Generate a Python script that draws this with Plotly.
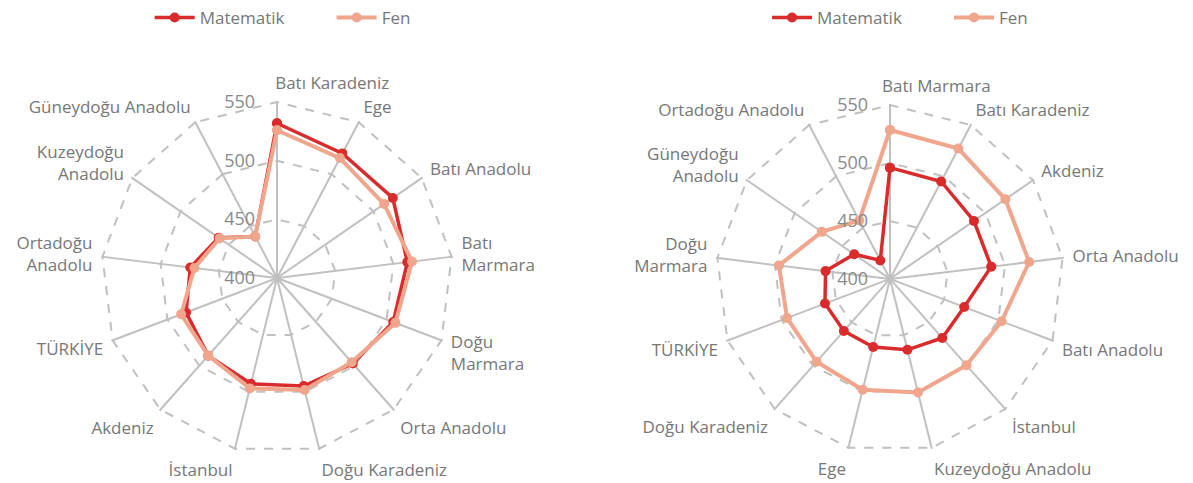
import plotly.graph_objects as go

# ---------------- data ----------------
left_categories = ["Batı Karadeniz", "Ege", "Batı Anadolu", "Batı Marmara", "Doğu Marmara",
                   "Orta Anadolu", "Doğu Karadeniz", "İstanbul", "Akdeniz", "TÜRKİYE",
                   "Ortadoğu Anadolu", "Kuzeydoğu Anadolu", "Güneydoğu Anadolu"]
left_ticktext = ["Batı Karadeniz", "Ege", "Batı Anadolu", "Batı<br>Marmara", "Doğu<br>Marmara",
                 "Orta Anadolu", "Doğu Karadeniz", "İstanbul", "Akdeniz", "TÜRKİYE",
                 "Ortadoğu<br>Anadolu", "Kuzeydoğu<br>Anadolu", "Güneydoğu Anadolu"]
left_matematik = [532, 520, 520, 512, 506, 497.5, 495, 493, 488.5, 483, 474.5, 460.5, 440]
left_fen = [526, 515.5, 511, 516, 508, 496, 498.5, 497, 488.5, 487.5, 471, 459.5, 440]

right_categories = ["Batı Marmara", "Batı Karadeniz", "Akdeniz", "Orta Anadolu", "Batı Anadolu",
                    "İstanbul", "Kuzeydoğu Anadolu", "Ege", "Doğu Karadeniz", "TÜRKİYE",
                    "Doğu Marmara", "Güneydoğu Anadolu", "Ortadoğu Anadolu"]
right_ticktext = ["Batı Marmara", "Batı Karadeniz", "Akdeniz", "Orta Anadolu", "Batı Anadolu",
                  "İstanbul", "Kuzeydoğu Anadolu", "Ege", "Doğu Karadeniz", "TÜRKİYE",
                  "Doğu<br>Marmara", "Güneydoğu<br>Anadolu", "Ortadoğu Anadolu"]
right_matematik = [496, 495, 488, 488, 468.5, 468, 463, 460.5, 460, 460, 456, 437.5, 418]
right_fen = [528.5, 527, 521, 521, 503, 499.5, 501, 498.5, 495.5, 495, 496.5, 471.5, 457]

radial_ticks = [400, 450, 500, 550]

# ---------------- styles ----------------
MAT_COLOR = "#d92b2b"
FEN_COLOR = "#f0a68c"
GRID = "#c0c0c0"
FONT = "Open Sans"
NBSP = "\u00a0"

fig = go.Figure()


def closed(vals):
    return list(vals) + [vals[0]]


def left_anchor_top(labels):
    # the top label sits to the right of the vertical spoke in the reference
    out = list(labels)
    out[0] = NBSP * (2 * len(out[0]) - 3) + out[0]
    return out


def add_pair(cats, mat, fen, subplot, legend):
    fig.add_trace(go.Scatterpolar(
        r=closed(mat), theta=closed(cats), name="Matematik", mode="lines+markers",
        line=dict(color=MAT_COLOR, width=3.5), marker=dict(color=MAT_COLOR, size=10),
        subplot=subplot, legend=legend))
    fig.add_trace(go.Scatterpolar(
        r=closed(fen), theta=closed(cats), name="Fen", mode="lines+markers",
        line=dict(color=FEN_COLOR, width=4), marker=dict(color=FEN_COLOR, size=10),
        subplot=subplot, legend=legend))


add_pair(left_categories, left_matematik, left_fen, "polar", "legend")
add_pair(right_categories, right_matematik, right_fen, "polar2", "legend2")


def polar_layout(domain_x, domain_y, cats, ticktext):
    return dict(
        domain=dict(x=domain_x, y=domain_y),
        bgcolor="white",
        gridshape="linear",
        radialaxis=dict(
            range=[400, 551], tickvals=radial_ticks,
            ticktext=[str(v) + NBSP * 4 for v in radial_ticks],
            angle=90, tickangle=90, side="counterclockwise", showline=False, ticks="",
            gridcolor=GRID, gridwidth=2, griddash="dash",
            tickfont=dict(family=FONT, size=18, color="#8a8a8a"),
        ),
        angularaxis=dict(
            type="category", categoryorder="array", categoryarray=cats,
            tickvals=cats, ticktext=left_anchor_top(ticktext),
            direction="clockwise", rotation=90, showline=False,
            ticks="outside", ticklen=5, tickcolor="rgba(0,0,0,0)",
            gridcolor=GRID, gridwidth=2,
            tickfont=dict(family=FONT, size=17, color="#777777"),
        ),
    )


legend_style = dict(orientation="h", y=1.0, yanchor="top", xanchor="center",
                    font=dict(family=FONT, size=17, color="#777777"),
                    bgcolor="rgba(0,0,0,0)", itemwidth=40,
                    entrywidth=127, entrywidthmode="pixels")

fig.update_layout(
    width=1193, height=483,
    margin=dict(l=0, r=0, t=0, b=0),
    paper_bgcolor="white",
    font=dict(family=FONT, color="#777777"),
    polar=polar_layout([0.0838, 0.3806], [0.058, 0.791], left_categories, left_ticktext),
    polar2=polar_layout([0.5993, 0.8927], [0.060, 0.785], right_categories, right_ticktext),
    legend=dict(x=0.278, **legend_style),
    legend2=dict(x=0.7955, **legend_style),
)

fig.write_html("out.html")
